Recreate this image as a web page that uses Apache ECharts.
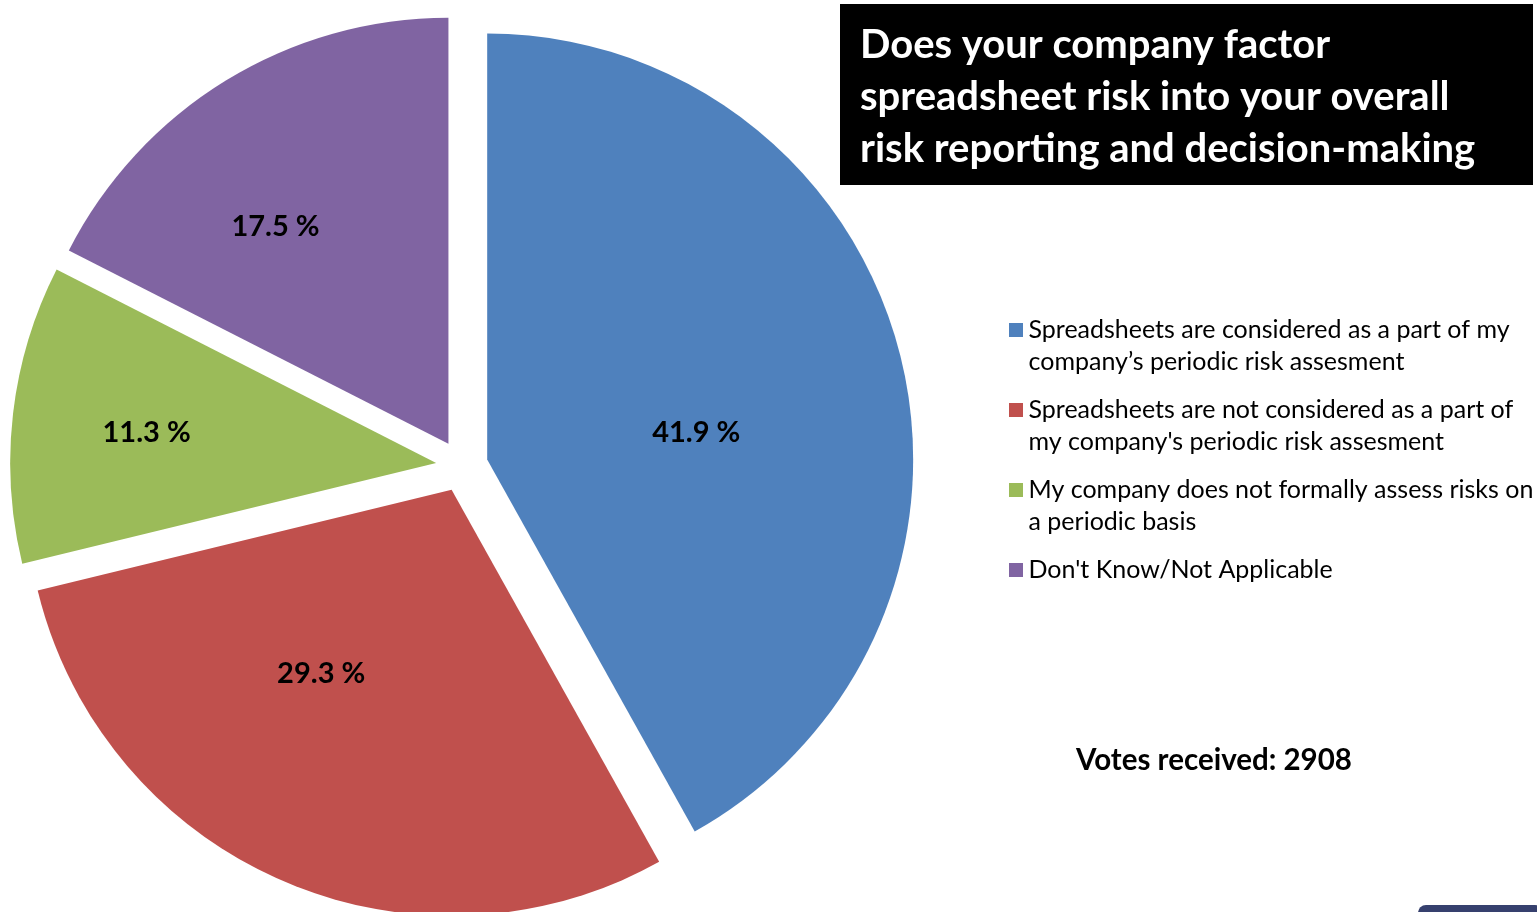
<!DOCTYPE html>
<html>
<head>
<meta charset="utf-8">
<script src="https://cdn.jsdelivr.net/npm/echarts@6/dist/echarts.min.js"></script>
<style>
html,body{margin:0;padding:0;background:#fff;}
#chart{width:1537px;height:912px;}
</style>
</head>
<body>
<div id="chart"></div>
<script>
const categories = [
  "Spreadsheets are considered as a part of my company\u2019s periodic risk assesment",
  "Spreadsheets are not considered as a part of my company's periodic risk assesment",
  "My company does not formally assess risks on a periodic basis",
  "Don't Know/Not Applicable"
];
const legendLines = [
  "Spreadsheets are considered as a part of my\ncompany\u2019s periodic risk assesment",
  "Spreadsheets are not considered as a part of\nmy company's periodic risk assesment",
  "My company does not formally assess risks on\na periodic basis",
  "Don't Know/Not Applicable\n"
];
const values = [41.9, 29.3, 11.3, 17.5];
const colors = ['#4F81BD', '#C0504D', '#9BBB59', '#8064A2'];
const titleText = "Does your company factor\nspreadsheet risk into your overall\nrisk reporting and decision-making";
const votesText = "Votes received: 2908";

// label nudges (style only)
const labelNudge = [[0, 28], [-44, -14], [-75, -5], [-60, -33]];

const FONT = 'Lato, "Open Sans", sans-serif';
const iconTop = 'path://M0,0H14V14H0Z M0,46H0.01V46.01H0Z';

const chart = echarts.init(document.getElementById('chart'));
const option = {
  animation: false,
  backgroundColor: '#fff',
  title: [{
    text: titleText,
    left: 860, top: 19, padding: 0,
    textStyle: { color: '#fff', fontFamily: FONT, fontWeight: 'bold', fontSize: 40, lineHeight: 52 }
  }, {
    text: votesText,
    left: 1214, top: 745, padding: 0, textAlign: 'center',
    textStyle: { color: '#000', fontFamily: FONT, fontWeight: 'bold', fontSize: 29.5 }
  }],
  graphic: [
    { type: 'rect', z: -1, shape: { x: 840, y: 4, width: 693, height: 181 }, style: { fill: '#000' } },
    { type: 'rect', shape: { x: 1418, y: 905, width: 125, height: 30, r: 8 }, style: { fill: '#36406e' } }
  ],
  legend: {
    orient: 'vertical',
    left: 1009, top: 314, padding: 0,
    itemWidth: 15, itemHeight: 46, itemGap: 16,
    selectedMode: false,
    icon: iconTop,
    textStyle: { fontFamily: FONT, fontSize: 25, color: '#000', lineHeight: 32 },
    formatter: function (name) { return legendLines[categories.indexOf(name)]; },
    data: categories
  },
  series: [{
    type: 'pie',
    center: [462, 466],
    radius: 426,
    startAngle: 90,
    clockwise: true,
    selectedMode: 'multiple',
    selectedOffset: 26,
    avoidLabelOverlap: false,
    emphasis: { disabled: true },
    label: {
      show: true, position: 'inside',
      fontFamily: FONT, fontWeight: 'bold', fontSize: 29, color: '#000',
      formatter: p => values[p.dataIndex].toFixed(1) + ' %'
    },
    labelLine: { show: false },
    labelLayout: function (p) {
      const n = labelNudge[p.dataIndex];
      return { dx: n[0], dy: n[1] };
    },
    data: categories.map((c, i) => ({
      name: c, value: values[i], selected: true,
      itemStyle: { color: colors[i] }
    }))
  }]
};
chart.setOption(option);
</script>
</body>
</html>
